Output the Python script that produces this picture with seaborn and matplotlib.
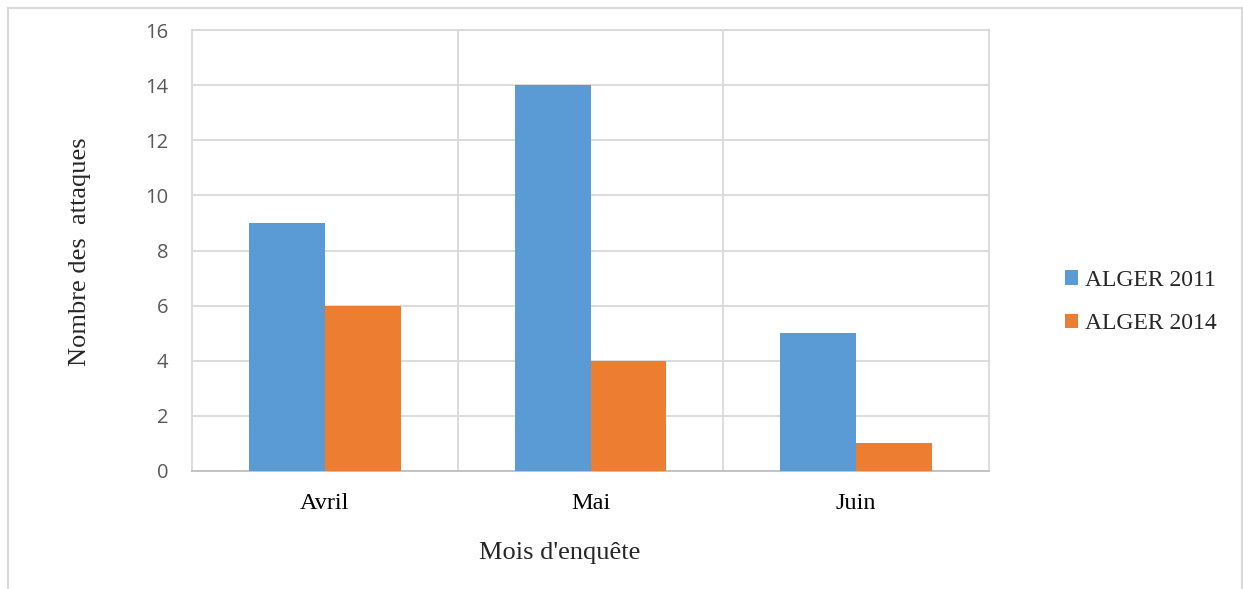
import matplotlib
matplotlib.use("Agg")
import matplotlib.pyplot as plt
import seaborn as sns
import pandas as pd
from matplotlib.patches import Rectangle

months = ["Avril", "Mai", "Juin"]
series_names = ["ALGER 2011", "ALGER 2014"]
alger_2011 = [9, 14, 5]
alger_2014 = [6, 4, 1]
y_ticks = [0, 2, 4, 6, 8, 10, 12, 14, 16]

df = pd.DataFrame({
    "Mois": months * 2,
    "Série": [series_names[0]] * len(months) + [series_names[1]] * len(months),
    "Valeur": alger_2011 + alger_2014,
})

sns.set_theme(style="white")
plt.rcParams["font.family"] = ["Liberation Serif", "DejaVu Serif"]

W, H = 1243, 589
fig = plt.figure(figsize=(W / 100, H / 100), dpi=100)
ax = fig.add_axes([192 / W, 1 - 471 / H, (989 - 192) / W, (471 - 30) / H])

palette = {series_names[0]: "#5B9BD5", series_names[1]: "#ED7D31"}
sns.barplot(data=df, x="Mois", y="Valeur", hue="Série", order=months,
            hue_order=series_names, palette=palette, width=0.572,
            saturation=1, linewidth=0, ax=ax, legend=True, zorder=3)

ax.set_xlim(-0.5, len(months) - 0.5)
ax.set_ylim(0, 16)
ax.set_yticks(y_ticks)
ax.set_yticklabels([str(v) for v in y_ticks], family="Open Sans",
                   fontsize=14.5, color="#595959")
ax.set_xticks(range(len(months)))
ax.set_xticklabels(months, fontsize=17.5, color="black")
ax.tick_params(axis="y", length=0, pad=17)
ax.tick_params(axis="x", length=0, pad=16)

grid_c = "#D9D9D9"
ax.grid(axis="y", color=grid_c, linewidth=1.3, zorder=0)
for xb in [i + 0.5 for i in range(len(months) - 1)]:
    ax.axvline(xb, color=grid_c, linewidth=1.3, zorder=0)
for s in ax.spines.values():
    s.set_color(grid_c)
    s.set_linewidth(1.3)
ax.spines["bottom"].set_color("#BFBFBF")

ax.set_xlabel("")
ax.set_ylabel("")
fig.text(560 / W, 1 - 553 / H, "Mois d'enquête", ha="center", va="center",
         fontsize=19)
fig.text(80 / W, 1 - 252 / H, "Nombre des  attaques", ha="center", va="center",
         rotation=90, fontsize=19)

handles, labels = ax.get_legend_handles_labels()
ax.legend(handles, labels, loc="center left",
          bbox_to_anchor=(1065 / W, 1 - 302 / H), bbox_transform=fig.transFigure,
          frameon=False, fontsize=17, handlelength=0.55, handleheight=0.55,
          handletextpad=0.3, labelspacing=0.95, borderpad=0, borderaxespad=0)

fig.patches.append(Rectangle((8 / W, -0.05), (1241.5 - 8) / W, 1.05 - 8 / H,
                             transform=fig.transFigure, fill=False,
                             edgecolor=grid_c, linewidth=1.5, zorder=0))

fig.savefig("out.png", dpi=100, facecolor="white")
